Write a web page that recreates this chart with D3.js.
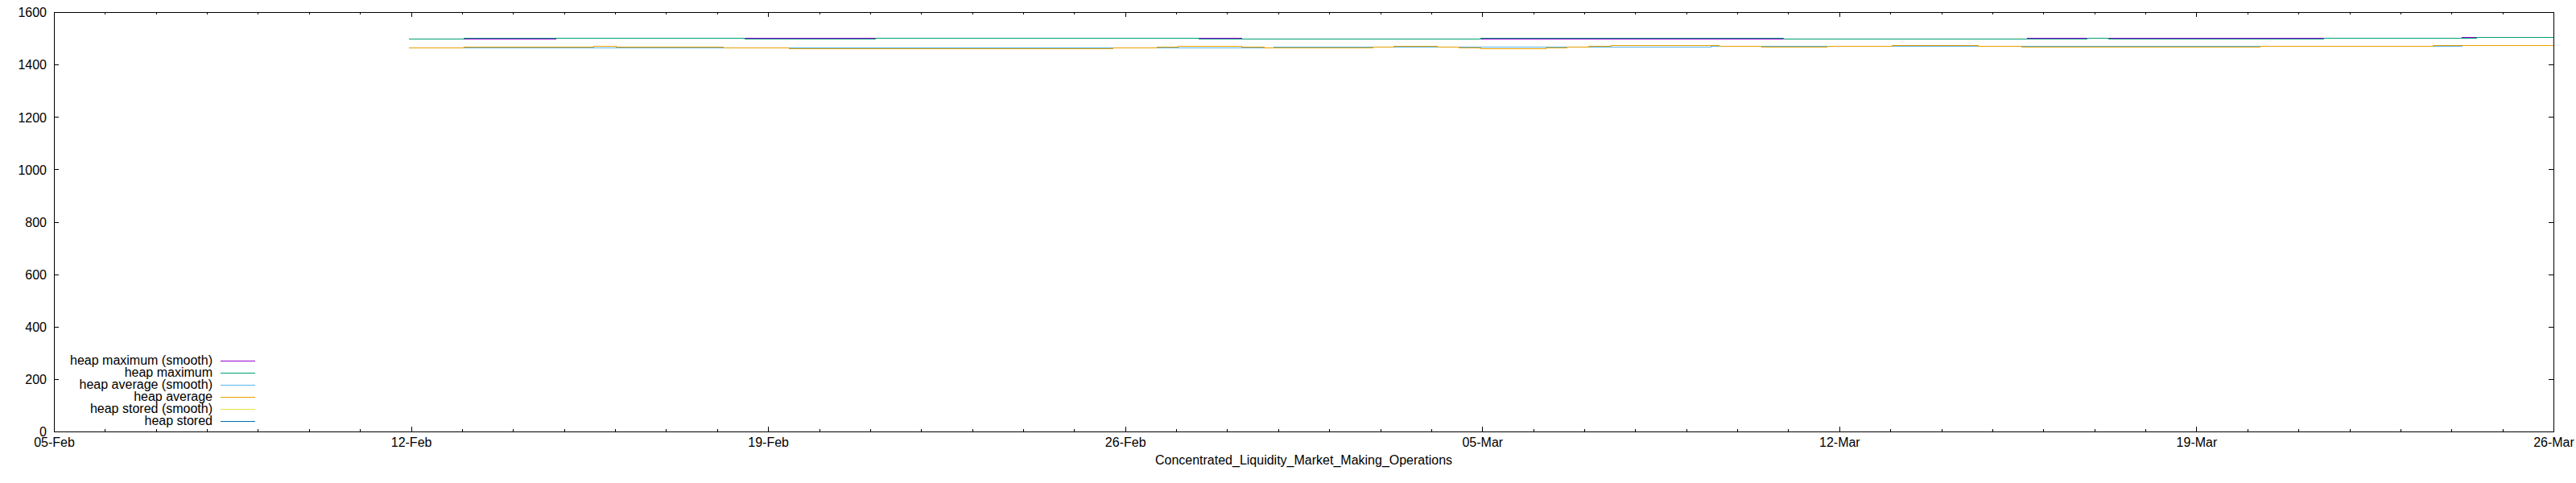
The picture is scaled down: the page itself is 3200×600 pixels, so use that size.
<!DOCTYPE html>
<html>
<head>
<meta charset="utf-8">
<script src="https://cdn.jsdelivr.net/npm/d3@7"></script>
<style>
  body { margin: 0; background: #fff; }
  svg text { font-family: "Liberation Sans", Arial, sans-serif; fill: #000; }
</style>
</head>
<body>
<svg id="chart" width="3200" height="600"></svg>
<script>
// ---------------- DATA ----------------
const seriesNames = [
  "heap maximum (smooth)",
  "heap maximum",
  "heap average (smooth)",
  "heap average",
  "heap stored (smooth)",
  "heap stored"
];
const seriesColors = ["#9400d3", "#009e73", "#56b4e9", "#e69f00", "#f0e442", "#0072b2"];

const heapMaximumSmooth = [
  ["2025-02-11 23:00", 1498], ["2025-02-14 20:20", 1501], ["2025-02-28 07:00", 1498],
  ["2025-03-15 16:20", 1501], ["2025-03-24 05:10", 1504], ["2025-03-26 00:00", 1504]
];
const heapMaximum = [
  ["2025-02-11 23:00", 1498], ["2025-02-13 01:00", 1501], ["2025-02-18 13:20", 1498],
  ["2025-02-21 02:20", 1501], ["2025-02-27 10:55", 1498], ["2025-03-04 23:30", 1501],
  ["2025-03-10 21:55", 1498], ["2025-03-16 20:40", 1501], ["2025-03-17 06:55", 1498],
  ["2025-03-21 12:00", 1501], ["2025-03-24 12:00", 1504], ["2025-03-26 00:00", 1504]
];
const heapAverageSmooth = [
  ["2025-02-11 23:00", 1464], ["2025-02-28 21:50", 1467], ["2025-03-09 11:50", 1470],
  ["2025-03-24 05:10", 1473], ["2025-03-26 00:00", 1473]
];
const heapAverage = [
  ["2025-02-11 23:00", 1464], ["2025-02-13 01:00", 1467], ["2025-02-15 14:00", 1470],
  ["2025-02-16 00:25", 1467], ["2025-02-18 03:00", 1464], ["2025-02-19 09:50", 1461],
  ["2025-02-25 18:25", 1464], ["2025-02-26 14:55", 1467], ["2025-02-27 01:05", 1470],
  ["2025-02-28 07:00", 1467], ["2025-02-28 17:35", 1464], ["2025-03-02 20:45", 1467],
  ["2025-03-03 06:35", 1470], ["2025-03-04 03:00", 1467], ["2025-03-04 13:15", 1464],
  ["2025-03-04 23:30", 1461], ["2025-03-06 06:10", 1464], ["2025-03-06 16:00", 1467],
  ["2025-03-07 02:10", 1470], ["2025-03-07 12:30", 1473], ["2025-03-09 15:35", 1470],
  ["2025-03-10 11:40", 1467], ["2025-03-11 18:20", 1470], ["2025-03-13 01:00", 1473],
  ["2025-03-14 17:30", 1470], ["2025-03-15 14:00", 1467], ["2025-03-20 06:05", 1470],
  ["2025-03-23 15:30", 1473], ["2025-03-26 00:00", 1473]
];
const heapStoredSmooth = [];
const heapStored = [];

const xDomain = ["2025-02-05", "2025-03-26"];
const xTickDates = ["2025-02-05", "2025-02-12", "2025-02-19", "2025-02-26",
                    "2025-03-05", "2025-03-12", "2025-03-19", "2025-03-26"];
const xTickLabels = ["05-Feb", "12-Feb", "19-Feb", "26-Feb", "05-Mar", "12-Mar", "19-Mar", "26-Mar"];
const yTicks = [0, 200, 400, 600, 800, 1000, 1200, 1400, 1600];
const yDomain = [0, 1600];
const xTitle = "Concentrated_Liquidity_Market_Making_Operations";

// ---------------- CHART ----------------
const W = 3200, H = 600;
const margin = { left: 67, right: 28, top: 15, bottom: 64 };
const svg = d3.select("#chart");
svg.append("rect").attr("width", W).attr("height", H).attr("fill", "#fff");

const parseT = d3.utcParse("%Y-%m-%d %H:%M");
const parseD = d3.utcParse("%Y-%m-%d");

const x = d3.scaleUtc()
  .domain(xDomain.map(parseD))
  .range([margin.left, W - margin.right]);
const y = d3.scaleLinear()
  .domain(yDomain)
  .range([H - margin.bottom, margin.top]);

const fontSize = "16px";
const tickVals = xTickDates.map(parseD);
const labelOf = new Map(tickVals.map((d, i) => [+d, xTickLabels[i]]));
const minorVals = d3.utcDay.range(x.domain()[0], d3.utcDay.offset(x.domain()[1], 1));

function styleAxis(g) {
  g.select(".domain").remove();
  g.selectAll("line").attr("stroke", "#000").attr("stroke-width", 1).attr("shape-rendering", "crispEdges");
  g.selectAll("text").style("font-size", fontSize).attr("fill", "#000");
}

// minor x ticks (bottom & top)
svg.append("g").attr("transform", `translate(0,${y(0)})`)
  .call(d3.axisBottom(x).tickValues(minorVals).tickSize(-3).tickFormat(""))
  .call(styleAxis);
svg.append("g").attr("transform", `translate(0,${y(1600)})`)
  .call(d3.axisTop(x).tickValues(minorVals).tickSize(-3).tickFormat(""))
  .call(styleAxis);

// major x ticks
svg.append("g").attr("transform", `translate(0,${y(0)})`)
  .call(d3.axisBottom(x).tickValues(tickVals).tickSize(-6).tickPadding(8)
        .tickFormat(d => labelOf.get(+d)))
  .call(styleAxis);
svg.append("g").attr("transform", `translate(0,${y(1600)})`)
  .call(d3.axisTop(x).tickValues(tickVals).tickSize(-6).tickFormat(""))
  .call(styleAxis);

// y ticks
svg.append("g").attr("transform", `translate(${x.range()[0]},0)`)
  .call(d3.axisLeft(y).tickValues(yTicks).tickSize(-6).tickPadding(9).tickFormat(d3.format("d")))
  .call(styleAxis)
  .call(g => g.selectAll("text").attr("dy", "0.36em"));
svg.append("g").attr("transform", `translate(${x.range()[1]},0)`)
  .call(d3.axisRight(y).tickValues(yTicks).tickSize(-6).tickFormat(""))
  .call(styleAxis);

// border
svg.append("rect")
  .attr("x", x.range()[0]).attr("y", y(1600))
  .attr("width", x.range()[1] - x.range()[0])
  .attr("height", y(0) - y(1600))
  .attr("fill", "none").attr("stroke", "#000").attr("stroke-width", 1)
  .attr("shape-rendering", "crispEdges");

// axis title
svg.append("text")
  .attr("x", (x.range()[0] + x.range()[1]) / 2)
  .attr("y", 577)
  .attr("text-anchor", "middle")
  .style("font-size", fontSize)
  .text(xTitle);

// series
const allSeries = [heapMaximumSmooth, heapMaximum, heapAverageSmooth, heapAverage, heapStoredSmooth, heapStored];
const line = d3.line()
  .x(d => x(parseT(d[0])))
  .y(d => y(d[1]))
  .curve(d3.curveStepAfter);

allSeries.forEach((data, i) => {
  if (!data.length) return;
  svg.append("path")
    .datum(data)
    .attr("d", line)
    .attr("fill", "none")
    .attr("stroke", seriesColors[i])
    .attr("stroke-width", 1)
    .attr("shape-rendering", "crispEdges");
});

// legend
const legend = svg.append("g");
const legTextX = 264, legLineX0 = 274, legLineX1 = 317, legY0 = 448.5, legStep = 15;
seriesNames.forEach((name, i) => {
  const ly = legY0 + i * legStep;
  legend.append("text")
    .attr("x", legTextX).attr("y", ly)
    .attr("dy", "0.25em")
    .attr("text-anchor", "end")
    .style("font-size", fontSize)
    .text(name);
  legend.append("line")
    .attr("x1", legLineX0).attr("x2", legLineX1)
    .attr("y1", ly).attr("y2", ly)
    .attr("stroke", seriesColors[i]).attr("stroke-width", 1)
    .attr("shape-rendering", "crispEdges");
});
</script>
</body>
</html>
